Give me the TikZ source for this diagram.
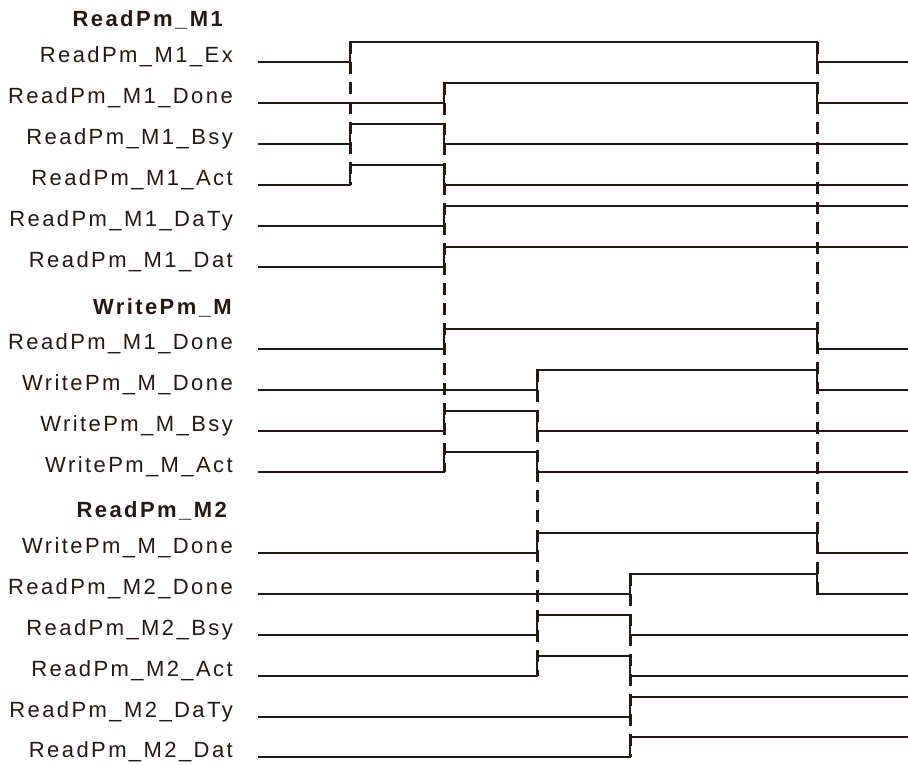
\documentclass[tikz,border=0pt]{standalone}
\usepackage{fontspec}
\setmainfont{Liberation Sans}
\newfontfamily\sigfont[LetterSpace=11]{Liberation Sans}
\usetikzlibrary{positioning}
\definecolor{cink}{HTML}{231815}
\tikzset{
  signame/.style={anchor=base east, inner sep=0pt, text=cink, font=\sigfont\fontsize{22}{22}\selectfont},
  grouptitle/.style={signame, font=\sigfont\bfseries\fontsize{22}{22}\selectfont},
  wave/.style={draw=cink, line width=2pt, line join=miter},
  syncline/.style={draw=cink, line width=3pt, dash pattern=on 12pt off 8pt},
}

\begin{document}
\begin{tikzpicture}[x=1pt, y=-1pt]
  \useasboundingbox (0,0) rectangle (908,764);

  % group titles
  \node[grouptitle] (rd1) at (223,26) {ReadPm\_M1};
  \node[grouptitle] (wr) at (232,314) {WritePm\_M};
  \node[grouptitle] (rd2) at (227,517) {ReadPm\_M2};

  % signal names
  \node[signame] (ex1) at (233,62) {ReadPm\_M1\_Ex};
  \node[signame] (done1) at (233,103) {ReadPm\_M1\_Done};
  \node[signame] (bsy1) at (233,144) {ReadPm\_M1\_Bsy};
  \node[signame] (act1) at (233,185) {ReadPm\_M1\_Act};
  \node[signame] (daty1) at (233,226) {ReadPm\_M1\_DaTy};
  \node[signame] (dat1) at (233,267) {ReadPm\_M1\_Dat};
  \node[signame] (wrin) at (233,349) {ReadPm\_M1\_Done};
  \node[signame] (wrdone) at (233,390) {WritePm\_M\_Done};
  \node[signame] (wrbsy) at (233,431) {WritePm\_M\_Bsy};
  \node[signame] (wract) at (233,472) {WritePm\_M\_Act};
  \node[signame] (rd2in) at (233,553) {WritePm\_M\_Done};
  \node[signame] (done2) at (233,594) {ReadPm\_M2\_Done};
  \node[signame] (bsy2) at (233,635) {ReadPm\_M2\_Bsy};
  \node[signame] (act2) at (233,676) {ReadPm\_M2\_Act};
  \node[signame] (daty2) at (233,717) {ReadPm\_M2\_DaTy};
  \node[signame] (dat2) at (233,757) {ReadPm\_M2\_Dat};

  % timing marks
  \draw[syncline] (350,42) -- (350,185);
  \draw[syncline] (444,83) -- (444,472);
  \draw[syncline] (537,370) -- (537,676);
  \draw[syncline] (630,574) -- (630,757);
  \draw[syncline] (817,42) -- (817,594);

  % ReadPm_M1
  \draw[wave] (258,62) -- (350,62) -- (350,42) -- (817,42) -- (817,62) -- (908,62);
  \draw[wave] (258,103) -- (444,103) -- (444,83) -- (817,83) -- (817,103) -- (908,103);
  \draw[wave] (258,144) -- (350,144) -- (350,124) -- (444,124) -- (444,144) -- (908,144);
  \draw[wave] (258,185) -- (350,185) -- (350,165) -- (444,165) -- (444,185) -- (908,185);
  \draw[wave] (258,226) -- (444,226) -- (444,206) -- (908,206);
  \draw[wave] (258,267) -- (444,267) -- (444,247) -- (908,247);

  % WritePm_M
  \draw[wave] (258,349) -- (444,349) -- (444,329) -- (817,329) -- (817,349) -- (908,349);
  \draw[wave] (258,390) -- (537,390) -- (537,370) -- (817,370) -- (817,390) -- (908,390);
  \draw[wave] (258,431) -- (444,431) -- (444,411) -- (537,411) -- (537,431) -- (908,431);
  \draw[wave] (258,472) -- (444,472) -- (444,452) -- (537,452) -- (537,472) -- (908,472);

  % ReadPm_M2
  \draw[wave] (258,553) -- (537,553) -- (537,533) -- (817,533) -- (817,553) -- (908,553);
  \draw[wave] (258,594) -- (630,594) -- (630,574) -- (817,574) -- (817,594) -- (908,594);
  \draw[wave] (258,635) -- (537,635) -- (537,615) -- (630,615) -- (630,635) -- (908,635);
  \draw[wave] (258,676) -- (537,676) -- (537,656) -- (630,656) -- (630,676) -- (908,676);
  \draw[wave] (258,717) -- (630,717) -- (630,697) -- (908,697);
  \draw[wave] (258,757) -- (630,757) -- (630,737) -- (908,737);
\end{tikzpicture}
\end{document}
